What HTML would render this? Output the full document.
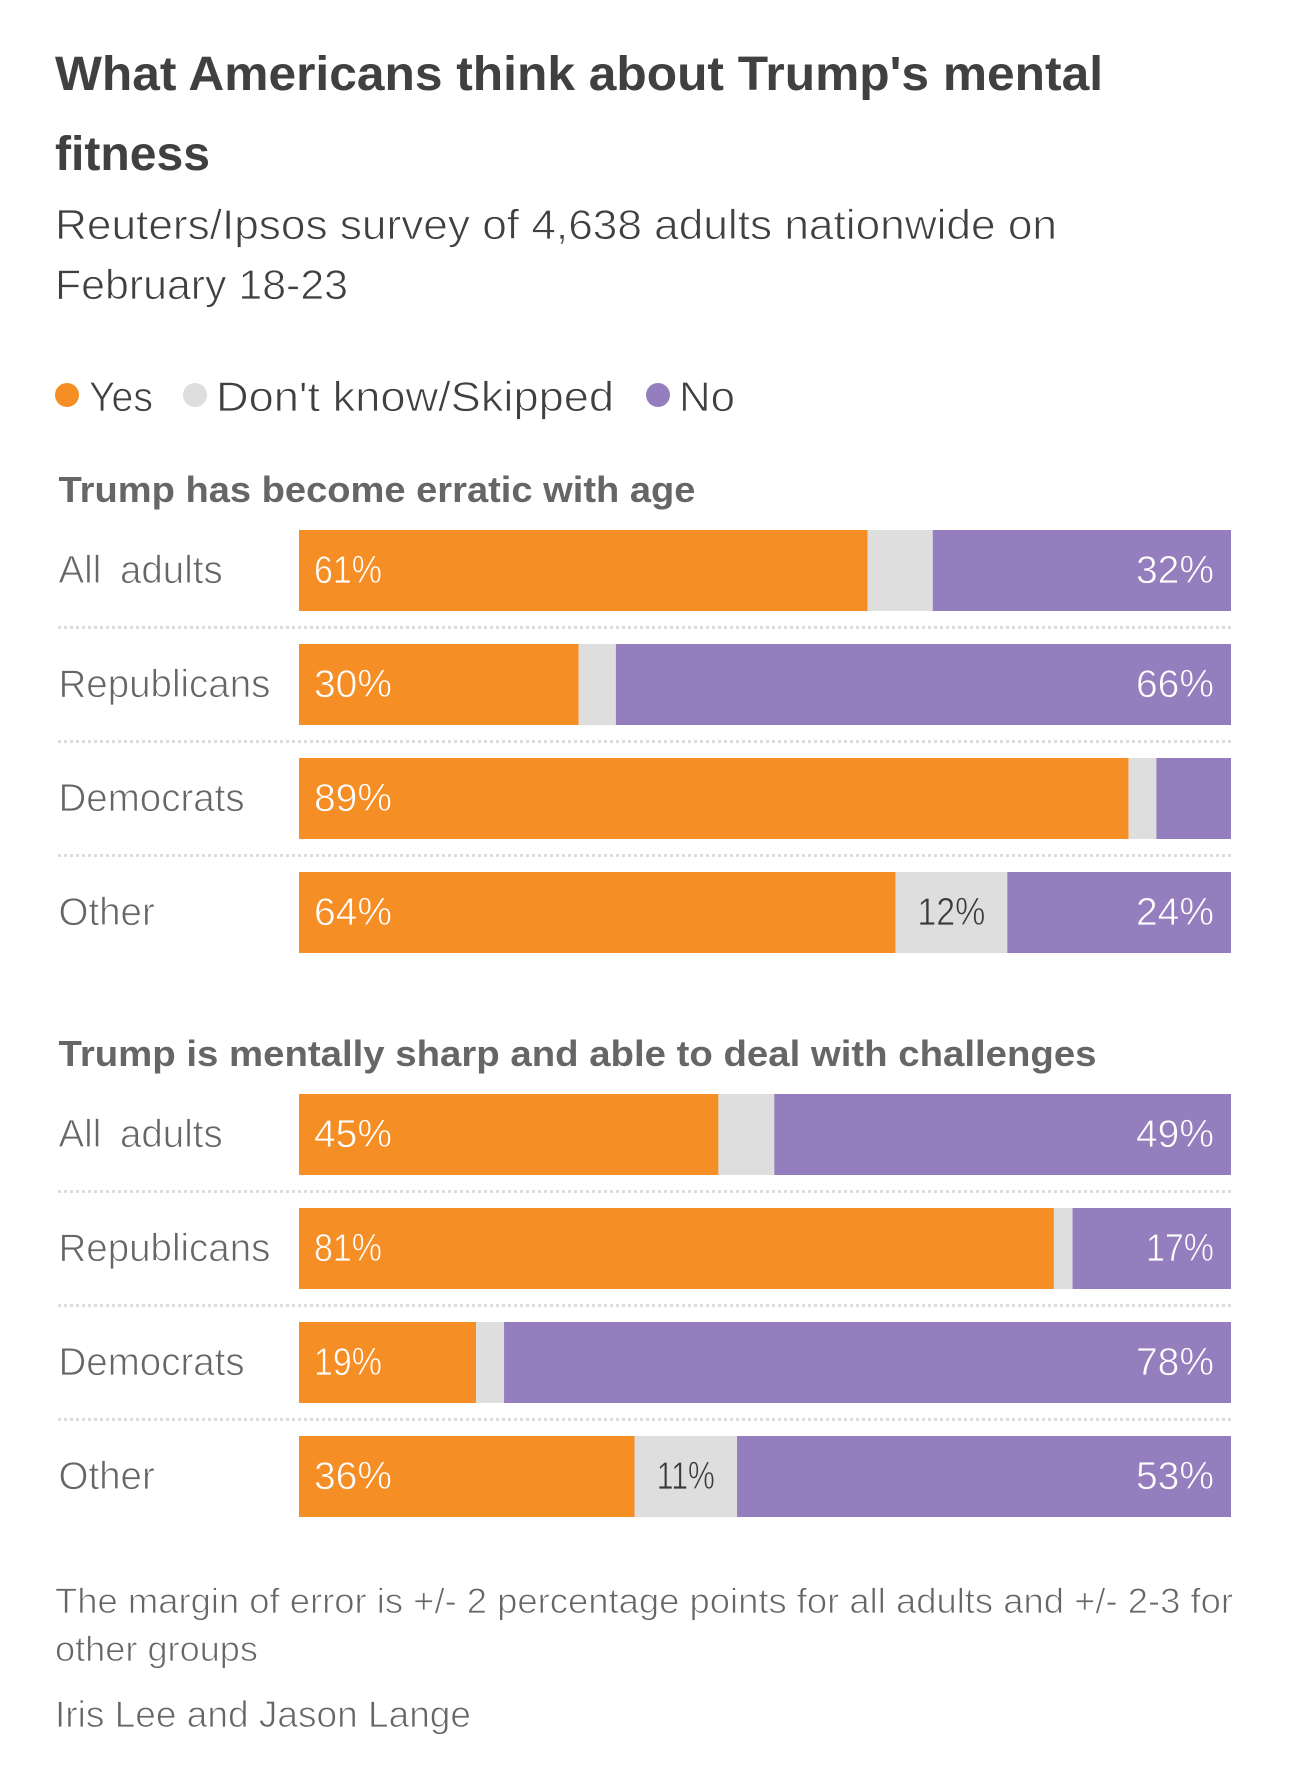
<!DOCTYPE html>
<html lang="en">
<head>
<meta charset="utf-8">
<title>What Americans think about Trump's mental fitness</title>
<style>
html,body{margin:0;padding:0;background:#fff;width:1290px;height:1788px;overflow:hidden}
svg{display:block}
text{font-family:"Liberation Sans",sans-serif}
.thin{stroke:#fff;stroke-width:.85px}
.thin-orange{stroke:#f68e26;stroke-width:.7px}
.thin-gray{stroke:#dedede;stroke-width:.7px}
.thin-purple{stroke:#947ebd;stroke-width:.7px}
</style>
</head>
<body>
<svg id="chart" xmlns="http://www.w3.org/2000/svg" width="1290" height="1788" viewBox="0 0 1290 1788">
  <rect x="0" y="0" width="1290" height="1788" fill="#ffffff"/>
  <g font-size="48" font-weight="700" fill="#404040">
    <text x="55" y="90" textLength="1048" lengthAdjust="spacingAndGlyphs">What Americans think about Trump's mental</text>
    <text x="55" y="170" textLength="155" lengthAdjust="spacingAndGlyphs">fitness</text>
  </g>
  <g font-size="42" fill="#404040" class="thin">
    <text x="55" y="239" textLength="1002" lengthAdjust="spacingAndGlyphs">Reuters/Ipsos survey of 4,638 adults nationwide on</text>
    <text x="55" y="299" textLength="293" lengthAdjust="spacingAndGlyphs">February 18-23</text>
  </g>
  <g font-size="42" fill="#404040">
    <g>
      <circle cx="67" cy="395" r="12" fill="#f68e26"/>
      <text class="thin" x="89" y="411" textLength="64" lengthAdjust="spacingAndGlyphs">Yes</text>
    </g>
    <g>
      <circle cx="195" cy="395" r="12" fill="#dedede"/>
      <text class="thin" x="216" y="411" textLength="398" lengthAdjust="spacingAndGlyphs">Don't know/Skipped</text>
    </g>
    <g>
      <circle cx="658" cy="395" r="12" fill="#947ebd"/>
      <text class="thin" x="679" y="411" textLength="56" lengthAdjust="spacingAndGlyphs">No</text>
    </g>
  </g>
  <text x="58.5" y="502" font-size="36" font-weight="700" fill="#666666" textLength="637" lengthAdjust="spacingAndGlyphs">Trump has become erratic with age</text>
  <text x="58.5" y="1066" font-size="36" font-weight="700" fill="#666666" textLength="1038" lengthAdjust="spacingAndGlyphs">Trump is mentally sharp and able to deal with challenges</text>
  <g id="plot"></g>
  <g fill="#666666" class="thin">
    <text x="55" y="1613" font-size="35" textLength="1178" lengthAdjust="spacingAndGlyphs">The margin of error is +/- 2 percentage points for all adults and +/- 2-3 for</text>
    <text x="55" y="1661" font-size="35" textLength="203" lengthAdjust="spacingAndGlyphs">other groups</text>
    <text x="55" y="1727" font-size="37" textLength="416" lengthAdjust="spacingAndGlyphs">Iris Lee and Jason Lange</text>
  </g>
</svg>
<script>
const categories = ['All adults', 'Republicans', 'Democrats', 'Other'];
const erraticYes = [61, 30, 89, 64];
const erraticDontKnow = [7, 4, 3, 12];
const erraticNo = [32, 66, 8, 24];
const sharpYes = [45, 81, 19, 36];
const sharpDontKnow = [6, 2, 3, 11];
const sharpNo = [49, 17, 78, 53];

const SVG_NS = 'http://www.w3.org/2000/svg';
const plot = document.getElementById('plot');
const X0 = 299, X1 = 1231, BAR_H = 81, PITCH = 114, LABEL_MIN = 10;

function xScale(v) { return X0 + (v / 100) * (X1 - X0); }
function rowTop(panelTop, i) { return panelTop + i * PITCH; }

function addText(parent, x, y, str, fill, anchor, size) {
  const t = document.createElementNS(SVG_NS, 'text');
  t.setAttribute('x', x);
  t.setAttribute('y', y);
  t.setAttribute('font-size', size);
  t.setAttribute('fill', fill);
  t.setAttribute('text-anchor', anchor);
  t.textContent = str;
  parent.appendChild(t);
  return t;
}

// The reference typeface has a narrow "1"; narrow the printed value to suit.
function addValue(parent, x, y, value, fill, anchor, cls) {
  const str = value + '%';
  const narrow = str.split('1').length - 1;
  const t = addText(parent, x, y, str, fill, anchor, 39);
  t.setAttribute('textLength', 78 - narrow * 10);
  t.setAttribute('lengthAdjust', 'spacingAndGlyphs');
  t.setAttribute('class', cls);
  return t;
}

function addSegment(parent, start, value, y, fill) {
  const r = document.createElementNS(SVG_NS, 'rect');
  r.setAttribute('x', xScale(start));
  r.setAttribute('y', y);
  r.setAttribute('width', xScale(start + value) - xScale(start));
  r.setAttribute('height', BAR_H);
  r.setAttribute('fill', fill);
  parent.appendChild(r);
  return r;
}

function drawPanel(panelTop, yes, dontKnow, no) {
  categories.forEach(function (cat, i) {
    const y = rowTop(panelTop, i);
    const base = y + 53;
    const row = document.createElementNS(SVG_NS, 'g');
    
    
    plot.appendChild(row);

    const cl = addText(row, 58.5, base, cat, '#666666', 'start', 38.5);
    cl.setAttribute('class', 'thin');
    cl.setAttribute('word-spacing', '8');
    
    

    const yesBar = addSegment(row, 0, yes[i], y, '#f68e26');
    
    

    const dkBar = addSegment(row, yes[i], dontKnow[i], y, '#dedede');
    
    

    const noBar = addSegment(row, yes[i] + dontKnow[i], no[i], y, '#947ebd');
    
    

    const yl = addValue(row, xScale(0) + 15, base, yes[i], '#ffffff', 'start', 'thin-orange');
    
    

    if (dontKnow[i] >= LABEL_MIN) {
      const dl = addValue(row, xScale(yes[i] + dontKnow[i] / 2), base, dontKnow[i], '#3a3a3a', 'middle', 'thin-gray');
      
      
    }
    if (no[i] >= LABEL_MIN) {
      const nl = addValue(row, xScale(100) - 17, base, no[i], '#ffffff', 'end', 'thin-purple');
      
      
    }
    if (i < categories.length - 1) {
      const sep = document.createElementNS(SVG_NS, 'line');
      sep.setAttribute('x1', 58);
      sep.setAttribute('x2', X1);
      sep.setAttribute('y1', y + 97.5);
      sep.setAttribute('y2', y + 97.5);
      sep.setAttribute('stroke', '#dcdcdc');
      sep.setAttribute('stroke-width', '3');
      sep.setAttribute('stroke-dasharray', '3 3');
      
      
      row.appendChild(sep);
    }
  });
}

drawPanel(530, erraticYes, erraticDontKnow, erraticNo);
drawPanel(1094, sharpYes, sharpDontKnow, sharpNo);
</script>
</body>
</html>
